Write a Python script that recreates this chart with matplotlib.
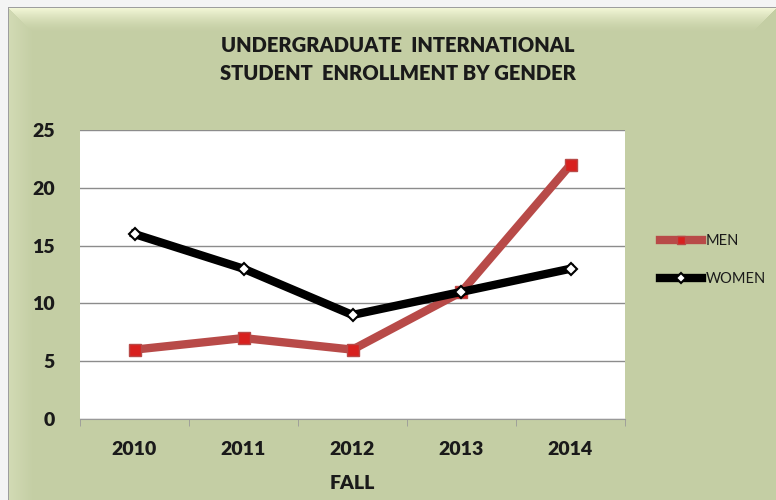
import numpy as np
import matplotlib.pyplot as plt

years = ['2010', '2011', '2012', '2013', '2014']
men = [6, 7, 6, 11, 22]
women = [16, 13, 9, 11, 13]

plt.rcParams['font.family'] = ['Lato', 'DejaVu Sans']
heavy = 'heavy'

W, H = 776, 500
fig = plt.figure(figsize=(W / 100, H / 100), dpi=100)

# bevelled green panel as a background image
base = np.array([196, 206, 164]) / 255
top = np.array([242, 246, 214]) / 255
side = np.array([210, 218, 180]) / 255
yy, xx = np.mgrid[0:H, 0:W]
img = np.ones((H, W, 3)) * base
bw = 24.0
t_top = np.clip(1 - (yy - 8) / bw, 0, 1)
t_left = np.clip(1 - (xx - 9) / bw, 0, 1)
top_zone = (yy - 8) <= (xx - 9)
top_zone &= (yy - 8) <= (W - 1 - xx)
for c in range(3):
    ch = img[..., c]
    ch = np.where(top_zone, base[c] + (top[c] - base[c]) * t_top ** 1.5, ch)
    ch = np.where(~top_zone & (xx < 9 + bw), base[c] + (side[c] - base[c]) * t_left, ch)
    img[..., c] = ch
img[:7, :] = 0.96
img[:, :8] = 0.96
img[7, 8:] = 0.62
img[7:, 8] = 0.62

bg_ax = fig.add_axes([0, 0, 1, 1], zorder=-5)
bg_ax.imshow(img, aspect='auto', interpolation='bilinear')
bg_ax.axis('off')

ax = fig.add_axes([80 / W, 81 / H, 545 / W, 289 / H])
ax.set_facecolor('white')
x = range(len(years))

ax.plot(x, men, color='#b84a48', lw=6, marker='s', ms=8,
        mfc='#d8201e', mec='#b84a48', label='MEN', zorder=3)
ax.plot(x, women, color='black', lw=6, marker='D', ms=6,
        mfc='white', mec='black', mew=1.5, label='WOMEN', zorder=4)

ax.set_xlim(-0.5, len(years) - 0.5)
ax.set_ylim(0, 25)
ax.set_yticks(range(0, 26, 5))
ax.set_xticks(list(x))
ax.set_xticklabels(years)
ax.set_xticks([i - 0.5 for i in range(len(years) + 1)], minor=True)
ax.tick_params(axis='x', which='major', length=0, pad=16)
ax.tick_params(axis='x', which='minor', length=5, color='#999999')
ax.tick_params(axis='y', length=0, pad=18)
for lbl in ax.get_xticklabels() + ax.get_yticklabels():
    lbl.set_fontsize(14)
    lbl.set_fontweight(heavy)
    lbl.set_color('#1a1a1a')

ax.grid(axis='y', color='#8c8c8c', lw=1)
ax.set_axisbelow(True)
for s in ['top', 'right', 'left']:
    ax.spines[s].set_visible(False)
ax.spines['bottom'].set_color('#999999')

ax.set_xlabel('FALL', fontsize=14, fontweight=heavy, labelpad=12, color='#1a1a1a')

fig.text(398 / W, 1 - 45 / H, 'UNDERGRADUATE  INTERNATIONAL', ha='center', va='center',
         fontsize=14.5, fontweight=heavy, color='#1a1a1a')
fig.text(398 / W, 1 - 74 / H, 'STUDENT  ENROLLMENT BY GENDER', ha='center', va='center',
         fontsize=14.5, fontweight=heavy, color='#1a1a1a')

fig.legend(loc='center left', bbox_to_anchor=(647 / W, 1 - 260 / H), frameon=False,
           fontsize=10.5, handlelength=2.9, handletextpad=0.2, labelspacing=1.6,
           markerscale=0.8, labelcolor='#1a1a1a')

fig.savefig('out.png', dpi=100)
